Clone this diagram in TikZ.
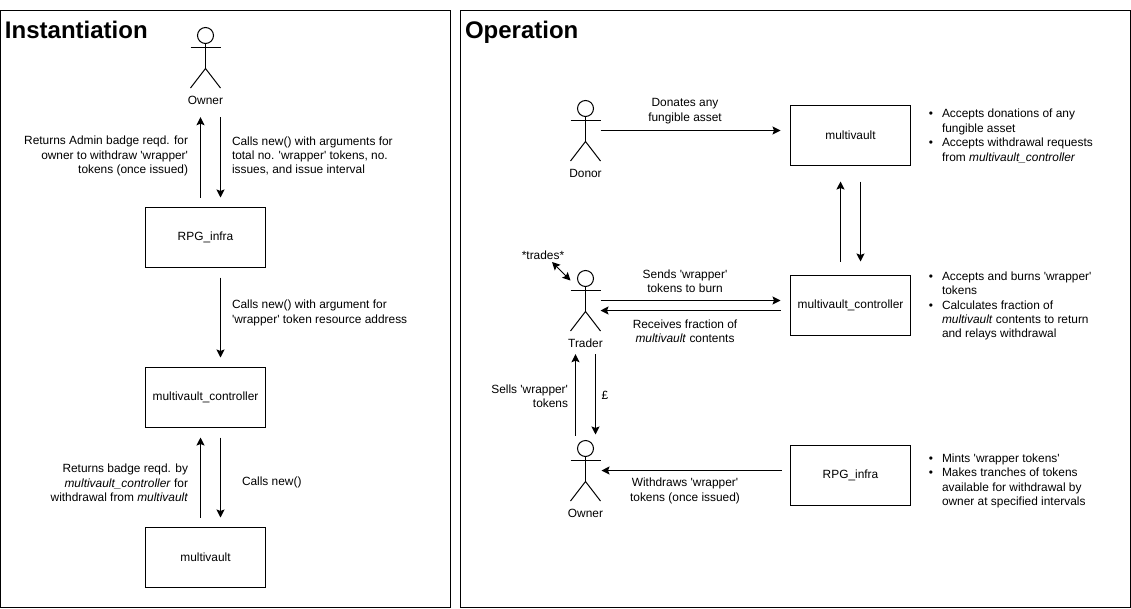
\documentclass[tikz,border=0pt]{standalone}
\usepackage{fontspec}
\setmainfont{Liberation Sans}[Ligatures=TeXOff]
\usetikzlibrary{arrows.meta}
\newcommand{\bul}{\llap{•\hspace{9pt}}}
\newcommand{\actor}[4]{%
  \node[actorbox] (#1) at (#2,#3) {};
  \draw[ln] (#2,#3) circle (8);
  \draw[ln] (#2,#3+8) -- (#2,#3+33);
  \draw[ln] (#2-15,#3+12) -- (#2+15,#3+12);
  \draw[ln] (#2-15,#3+52.5) -- (#2,#3+33) -- (#2+15,#3+52.5);
  \node[lab,anchor=center,minimum height=14.4pt] (#1-label) at (#2,#3+64.5) {#4};
}
\tikzset{
  ln/.style={draw=black,line width=1pt},
  arr/.style={ln,-{Stealth[length=8pt,width=8pt,inset=1.5pt]}},
  dbl/.style={ln,{Stealth[length=8pt,width=8pt,inset=1.5pt]}-{Stealth[length=8pt,width=8pt,inset=1.5pt]}},
  frame/.style={ln,fill=white,minimum width=#1,minimum height=596.5pt,inner sep=0pt,outer sep=0pt,anchor=north west},
  boxn/.style={ln,minimum width=120pt,minimum height=60pt,inner sep=0pt,outer sep=0pt,font=\fontsize{11.9}{14.4}\selectfont},
  lab/.style={inner sep=0pt,outer sep=0pt,font=\fontsize{11.9}{14.4}\selectfont},
  title/.style={inner sep=0pt,outer sep=0pt,anchor=base west,font=\fontsize{24}{28}\selectfont\bfseries},
  actorbox/.style={inner sep=0pt,outer sep=0pt,minimum width=30pt,minimum height=16pt},
}
\begin{document}
\begin{tikzpicture}[x=1pt,y=-1pt]
\useasboundingbox (0,0) rectangle (1131,608);
\fill[white] (0,0) rectangle (1131,608);
% frames
\node[frame=450pt] (leftframe) at (0.5,10.5) {};
\node[frame=670pt] (rightframe) at (460.5,10.5) {};
\node[title] (titleA) at (5,38) {Instantiation};
\node[title] (titleB) at (465,38) {Operation};
% left
\actor{ownerA}{205.5}{35.5}{Owner}
\node[boxn] (rpgA) at (205.5,237.5) {RPG\_infra};
\node[boxn] (ctrlA) at (205.5,397.5) {multivault\_controller};
\node[boxn] (mvA) at (205.5,557.5) {multivault};
\draw[arr] ([shift={(-5,-10)}]rpgA.north) -- ([shift={(-5,10)}]ownerA-label.south);
\draw[arr] ([shift={(15,10)}]ownerA-label.south) -- ([shift={(15,-10)}]rpgA.north);
\draw[arr] ([shift={(15,10)}]rpgA.south) -- ([shift={(15,-10)}]ctrlA.north);
\draw[arr] ([shift={(-5,-10)}]mvA.north) -- ([shift={(-5,10)}]ctrlA.south);
\draw[arr] ([shift={(15,10)}]ctrlA.south) -- ([shift={(15,-10)}]mvA.north);
\node[lab,align=right,anchor=east] (l1) at (188,156) {Returns Admin badge reqd. for\\owner to withdraw 'wrapper'\\tokens (once issued)};
\node[lab,align=left,anchor=west] (l2) at (232,156) {Calls new() with arguments for\\total no. 'wrapper' tokens, no.\\issues, and issue interval};
\node[lab,align=left,anchor=west] (l3) at (232,313) {Calls new() with argument for\\'wrapper' token resource address};
\node[lab,align=right,anchor=east] (l4) at (188,483) {Returns badge reqd. by\\\textit{multivault\_controller} for\\withdrawal from \textit{multivault}};
\node[lab,align=left,anchor=west] (l5) at (242,482) {Calls new()};
% right
\actor{donor}{585.5}{108.5}{Donor}
\actor{trader}{585.5}{278.5}{Trader}
\actor{ownerB}{585.5}{448.5}{Owner}
\node[boxn] (mvB) at (850.5,135.5) {multivault};
\node[boxn] (ctrlB) at (850.5,305.5) {multivault\_controller};
\node[boxn] (rpgB) at (850.5,475.5) {RPG\_infra};
\coordinate (tradesEnd) at (552,262);
\draw[dbl] (tradesEnd) -- ([shift={(0,10)}]trader.north west);
\draw[arr] ([shift={(0,22)}]donor.east) -- ([shift={(-10,-5)}]mvB.west);
\draw[arr] ([shift={(-10,-14)}]ctrlB.north) -- ([shift={(-10,16)}]mvB.south);
\draw[arr] ([shift={(10,16)}]mvB.south) -- ([shift={(10,-14)}]ctrlB.north);
\draw[arr] ([shift={(0,22)}]trader.east) -- ([shift={(-10,-5)}]ctrlB.west);
\draw[arr] ([shift={(-10,5)}]ctrlB.west) -- ([shift={(0,32)}]trader.east);
\draw[arr] ([shift={(-10,-5)}]ownerB.north) -- ([shift={(-10,4)}]trader-label.south);
\draw[arr] ([shift={(10,4)}]trader-label.south) -- ([shift={(10,-6)}]ownerB.north);
\draw[arr] ([shift={(-9,-5)}]rpgB.west) -- ([shift={(1,22)}]ownerB.east);
\node[lab,align=center] (r1) at (685,111) {Donates any\\fungible asset};
\node[lab,align=center] (r2) at (685,281) {Sends 'wrapper'\\tokens to burn};
\node[lab,align=center] (r3) at (685,331) {Receives fraction of\\\textit{multivault} contents};
\node[lab,align=center] (r4) at (685,491) {Withdraws 'wrapper'\\tokens (once issued)};
\node[lab,align=right,anchor=east] (r5) at (568,396) {Sells 'wrapper'\\tokens};
\node[lab] (r6) at (605,395) {£};
\node[lab] (r7) at (543,255) {*trades*};
\node[lab,align=left,anchor=west] (b1) at (942,136) {\bul Accepts donations of any\\fungible asset\\\bul Accepts withdrawal requests\\from \textit{multivault\_controller}};
\node[lab,align=left,anchor=west] (b2) at (942,306) {\bul Accepts and burns 'wrapper'\\tokens\\\bul Calculates fraction of\\\textit{multivault} contents to return\\and relays withdrawal};
\node[lab,align=left,anchor=west] (b3) at (942,481) {\bul Mints 'wrapper tokens'\\\bul Makes tranches of tokens\\available for withdrawal by\\owner at specified intervals};
\end{tikzpicture}
\end{document}
